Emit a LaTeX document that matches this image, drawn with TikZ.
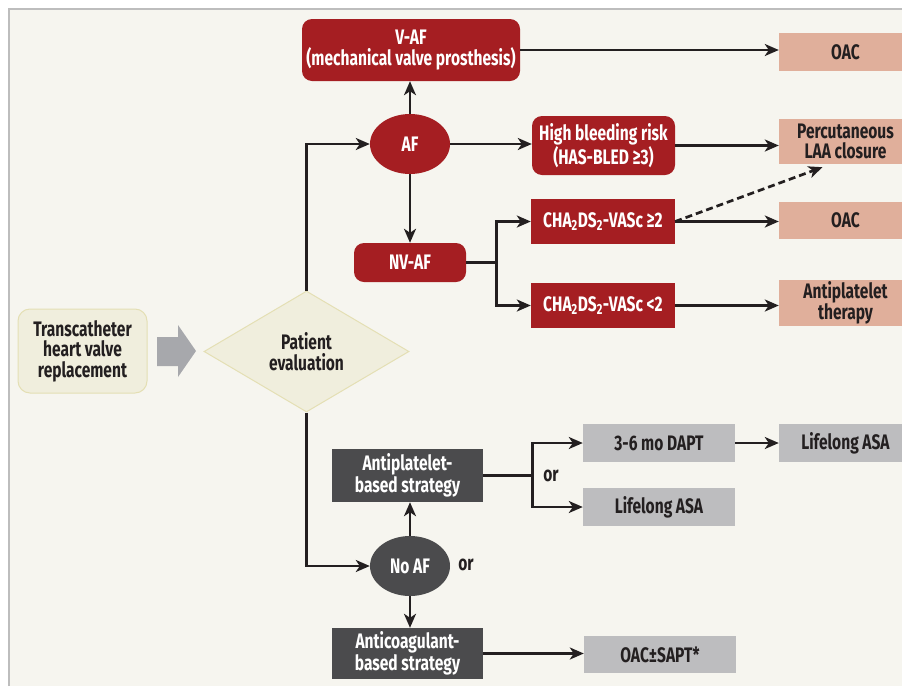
\documentclass[tikz,border=0pt]{standalone}
\usepackage{fontspec}
\setmainfont{Fira Sans}[FakeStretch=0.74]
\usepackage{tikz}
\usetikzlibrary{arrows.meta, shapes.geometric}
\definecolor{afred}{HTML}{A51E22}
\definecolor{salmon}{HTML}{E0AF9B}
\definecolor{lightgrey}{HTML}{BDBDBF}
\definecolor{darkgrey}{HTML}{4B4B4D}
\definecolor{ink}{HTML}{231F20}
\definecolor{cream}{HTML}{F0EEDD}
\definecolor{creamrim}{HTML}{E4DFB4}
\definecolor{arrowgrey}{HTML}{A7A8AC}
\definecolor{panelbg}{HTML}{F6F5EF}
\definecolor{rim}{HTML}{BDBDBD}
\newcommand{\flowfont}{\bfseries\fontsize{21}{20.5}\selectfont}

\begin{document}
\begin{tikzpicture}[x=1pt, y=-1pt,
	every node/.style={font=\flowfont, align=center, inner sep=0pt},
	redround/.style={fill=afred, text=white, rounded corners=10pt},
	redbox/.style={fill=afred, text=white},
	pinkbox/.style={fill=salmon, text=ink},
	greybox/.style={fill=lightgrey, text=ink},
	darkbox/.style={fill=darkgrey, text=white},
	creamshape/.style={fill=cream, draw=creamrim, line width=1pt, text=ink},
	line/.style={draw=ink, line width=2.7pt},
	arr/.style={line, -{Stealth[length=14pt, width=12pt, inset=4pt]}},
	dasharr/.style={arr, dash pattern=on 7pt off 4pt}]
	\useasboundingbox (0,0) rectangle (902,686);
	\clip (0,0) rectangle (902,686);
	\fill[white] (0,0) rectangle (902,686);
	\fill[panelbg] (9,9) rectangle (902,686);
	\draw[rim, line width=1.5pt] (9,686) -- (9,9) -- (902,9);

	\node[creamshape, rounded corners=12pt, minimum width=129pt, minimum height=84pt] (thv) at (82.5,351) {Transcatheter\\heart valve\\replacement};
	\fill[arrowgrey] (157,337) -- (178,337) -- (178,325) -- (196,351) -- (178,377) -- (178,366) -- (157,366) -- cycle;
	\node[creamshape, diamond, aspect=1.7, minimum width=205pt, minimum height=121pt] (eval) at (306.5,351.5) {Patient\\evaluation};

	\node[redround, minimum width=218pt, minimum height=62pt] (vaf) at (411,50) {V-AF\\(mechanical valve prosthesis)};
	\node[pinkbox, minimum width=133pt, minimum height=38pt] (oaca) at (845.5,52) {OAC};
	\node[ellipse, fill=afred, text=white, minimum width=80pt, minimum height=60pt] (af) at (410,144) {AF};
	\node[redround, minimum width=143pt, minimum height=59pt] (bleed) at (603.5,145.5) {High bleeding risk\\(HAS-BLED ≥3)};
	\node[pinkbox, minimum width=133pt, minimum height=45pt] (laa) at (845.5,141.5) {Percutaneous\\LAA closure};
	\node[redround, minimum width=112pt, minimum height=39pt] (nvaf) at (410,262.5) {NV-AF};
	\node[redbox, minimum width=144pt, minimum height=45pt] (chahi) at (603,221.5) {CHA\textsubscript{2}DS\textsubscript{2}-VASc ≥2};
	\node[pinkbox, minimum width=133pt, minimum height=37pt] (oacb) at (845.5,220.5) {OAC};
	\node[redbox, minimum width=144pt, minimum height=45pt] (chalo) at (603,305.5) {CHA\textsubscript{2}DS\textsubscript{2}-VASc <2};
	\node[pinkbox, minimum width=133pt, minimum height=46pt] (anti) at (845.5,303) {Antiplatelet\\therapy};

	\node[ellipse, fill=darkgrey, text=white, minimum width=80pt, minimum height=60pt] (noaf) at (410,566) {No AF};
	\node[darkbox, minimum width=151pt, minimum height=53pt] (apbs) at (407.5,475.5) {Antiplatelet-\\based strategy};
	\node[darkbox, minimum width=151pt, minimum height=51pt] (acbs) at (407.5,653.5) {Anticoagulant-\\based strategy};
	\node[greybox, minimum width=152pt, minimum height=38pt] (dapt) at (659,443) {3-6 mo DAPT};
	\node[greybox, minimum width=152pt, minimum height=38pt] (asaa) at (659,507) {Lifelong ASA};
	\node[greybox, minimum width=133pt, minimum height=38pt] (asab) at (845.5,443) {Lifelong ASA};
	\node[greybox, minimum width=152pt, minimum height=37pt] (oacsapt) at (660,654.5) {OAC±SAPT*};
	\node[text=ink] (ora) at (551,476) {or};
	\node[text=ink] (orb) at (466,565) {or};

	\draw[arr] (af.north) -- (af.north |- vaf.south);
	\draw[arr] (vaf.east) -- (vaf.east -| oaca.west);
	\draw[arr] (af.east) -- (af.east -| bleed.west);
	\draw[arr] (bleed.east) -- (bleed.east -| laa.west);
	\draw[arr] (af.south) -- (af.south |- nvaf.north);
	\draw[arr] (eval.north) |- (af.west);
	\draw[arr] (eval.south) |- (noaf.west);
	\draw[line] (nvaf.east) -- ++(30,0) coordinate (nvfork);
	\draw[arr] (nvfork) |- (chahi.west);
	\draw[arr] (nvfork) |- (chalo.west);
	\draw[arr] (chahi.east) -- (chahi.east -| oacb.west);
	\draw[dasharr] (chahi.east) -- ([shift={(-23,3)}]laa.south);
	\draw[arr] (chalo.east) -- (chalo.east -| anti.west);
	\draw[arr] (noaf.north) -- (noaf.north |- apbs.south);
	\draw[arr] (noaf.south) -- (noaf.south |- acbs.north);
	\draw[line] (apbs.east) -- ++(49,0) coordinate (apfork);
	\draw[arr] (apfork) |- (dapt.west);
	\draw[arr] (apfork) |- (asaa.west);
	\draw[arr] (dapt.east) -- (dapt.east -| asab.west);
	\draw[arr] (acbs.east) -- (acbs.east -| oacsapt.west);
\end{tikzpicture}
\end{document}
